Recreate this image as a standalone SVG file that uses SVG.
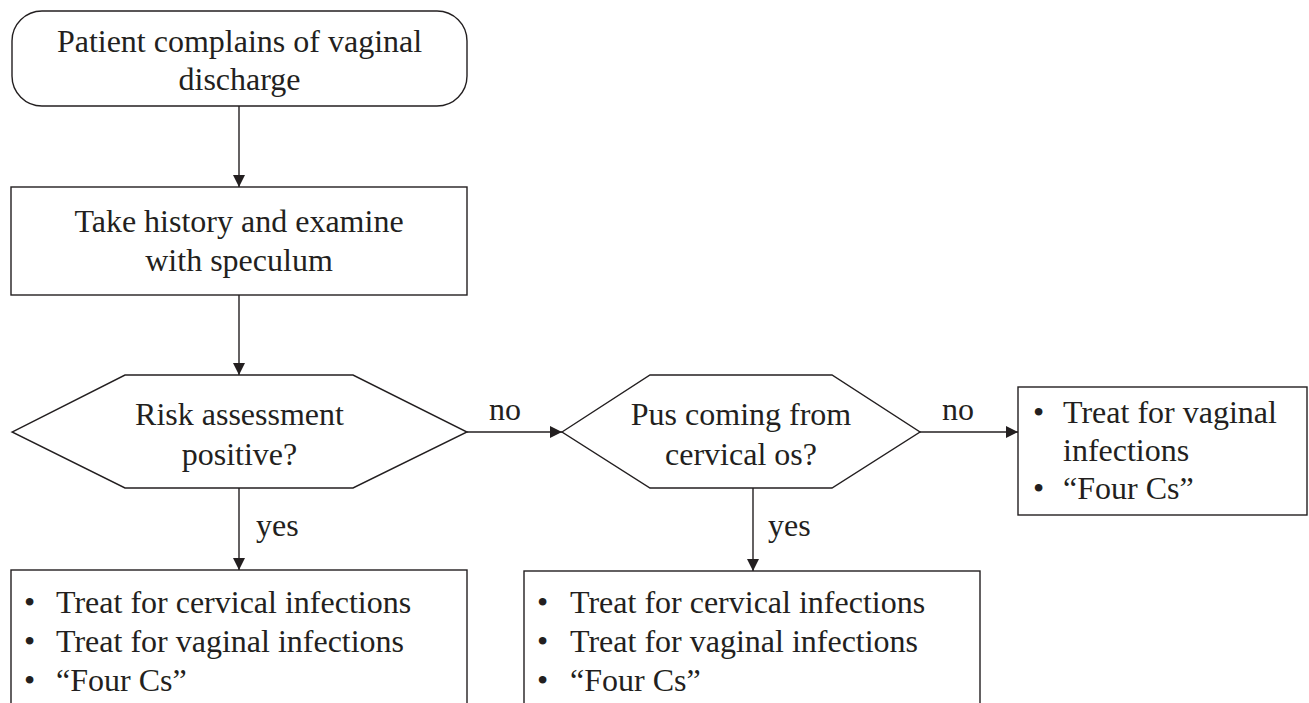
<svg xmlns="http://www.w3.org/2000/svg" width="1309" height="703" viewBox="0 0 1309 703">
  <style>
    .shape { fill: #ffffff; stroke: #231f20; stroke-width: 1.4; }
    .link { fill: none; stroke: #231f20; stroke-width: 1.4; }
    text { font-family: "Liberation Serif", "Times New Roman", serif; font-size: 32px; fill: #231f20; }
    .c { text-anchor: middle; }
  </style>
  <defs>
    <marker id="arrow" viewBox="0 0 12 12" refX="12" refY="6" markerWidth="12" markerHeight="12" markerUnits="userSpaceOnUse" orient="auto">
      <path d="M0,0 L12,6 L0,12 Z" fill="#231f20"/>
    </marker>
  </defs>

  <rect width="1309" height="703" fill="#ffffff"/>

  <!-- connectors -->
  <g id="connectors">
    <line class="link" x1="239" y1="106" x2="239" y2="187" marker-end="url(#arrow)"/>
    <line class="link" x1="239" y1="295" x2="239" y2="375" marker-end="url(#arrow)"/>
    <line class="link" x1="467" y1="432" x2="562" y2="432" marker-end="url(#arrow)"/>
    <text x="505" y="420" class="c">no</text>
    <line class="link" x1="920" y1="432" x2="1018" y2="432" marker-end="url(#arrow)"/>
    <text x="958" y="420" class="c">no</text>
    <line class="link" x1="239" y1="488" x2="239" y2="570" marker-end="url(#arrow)"/>
    <text x="256" y="536">yes</text>
    <line class="link" x1="753" y1="488" x2="753" y2="571" marker-end="url(#arrow)"/>
    <text x="768" y="536">yes</text>
  </g>

  <!-- start: complaint -->
  <g id="start">
    <rect class="shape" x="12" y="11" width="455" height="95" rx="30" ry="30"/>
    <text x="239.5" y="52" class="c">Patient complains of vaginal</text>
    <text x="239.5" y="90" class="c">discharge</text>
  </g>

  <!-- history and examination -->
  <g id="examine">
    <rect class="shape" x="11" y="187" width="456" height="108"/>
    <text x="239" y="232" class="c">Take history and examine</text>
    <text x="239" y="271" class="c">with speculum</text>
  </g>

  <!-- decision: risk assessment -->
  <g id="risk">
    <polygon class="shape" points="12,432 125,375 353,375 467,432 353,488 125,488"/>
    <text x="239.5" y="425" class="c">Risk assessment</text>
    <text x="239.5" y="465" class="c">positive?</text>
  </g>

  <!-- decision: pus from cervical os -->
  <g id="pus">
    <polygon class="shape" points="562,432 650,375 832,375 920,432 832,488 650,488"/>
    <text x="741" y="425" class="c">Pus coming from</text>
    <text x="741" y="465" class="c">cervical os?</text>
  </g>

  <!-- outcome: vaginal only -->
  <g id="vaginal-only">
    <rect class="shape" x="1018" y="387" width="289" height="128"/>
    <text x="1033" y="423">•</text>
    <text x="1063" y="423">Treat for vaginal</text>
    <text x="1063" y="461">infections</text>
    <text x="1033" y="499">•</text>
    <text x="1063" y="499">“Four Cs”</text>
  </g>

  <!-- outcome: risk positive -->
  <g id="risk-treat">
    <rect class="shape" x="11" y="570" width="456" height="150"/>
    <text x="24" y="613">•</text>
    <text x="56" y="613">Treat for cervical infections</text>
    <text x="24" y="652">•</text>
    <text x="56" y="652">Treat for vaginal infections</text>
    <text x="24" y="691">•</text>
    <text x="56" y="691">“Four Cs”</text>
  </g>

  <!-- outcome: pus present -->
  <g id="pus-treat">
    <rect class="shape" x="524" y="571" width="456" height="150"/>
    <text x="537" y="613">•</text>
    <text x="570" y="613">Treat for cervical infections</text>
    <text x="537" y="652">•</text>
    <text x="570" y="652">Treat for vaginal infections</text>
    <text x="537" y="691">•</text>
    <text x="570" y="691">“Four Cs”</text>
  </g>
</svg>
